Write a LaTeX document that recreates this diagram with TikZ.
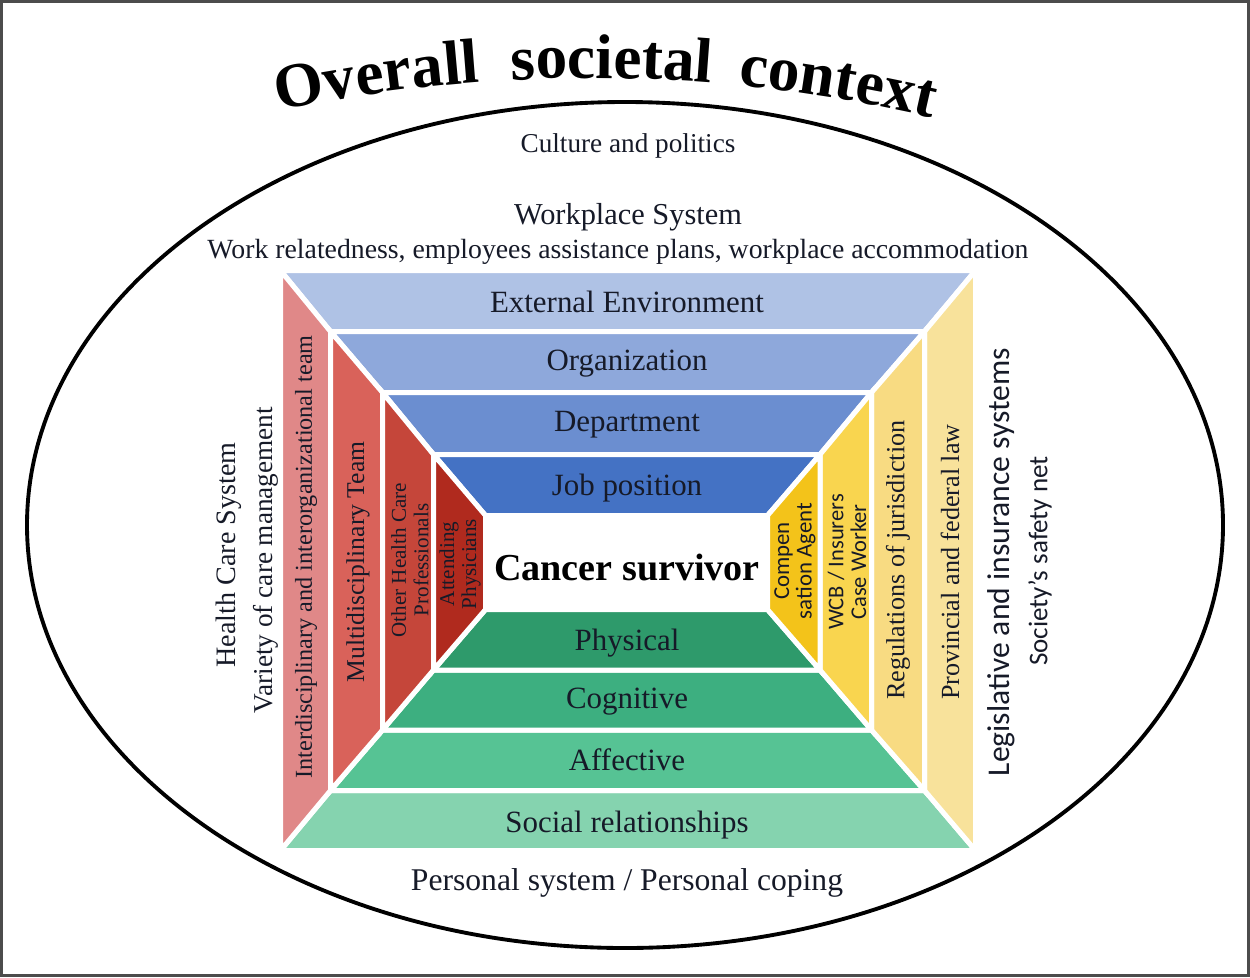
\documentclass[tikz,border=0pt]{standalone}
\usepackage{fontspec}
\setmainfont{Liberation Serif}
\newfontfamily\sansf{Carlito}
\usetikzlibrary{decorations.text}
\newcommand\fsz[2]{\fontsize{#1pt}{#2pt}\selectfont}
\newcommand\titlefont{\fontsize{36pt}{40pt}\selectfont\bfseries}
\newcommand\arcword[2]{%
  \path[decorate, decoration={text along path, text align=center,
    text={|\titlefont|#2}}]
    ([shift={(590,1578)}]#1-7:1500) arc[start angle=#1-7, end angle=#1+7, radius=1500];}
\definecolor{txt}{HTML}{161A28}
\definecolor{blueA}{HTML}{AFC2E5}
\definecolor{blueB}{HTML}{8EA8DB}
\definecolor{blueC}{HTML}{6B8ED0}
\definecolor{blueD}{HTML}{4472C4}
\definecolor{redA}{HTML}{E08888}
\definecolor{redB}{HTML}{D9625A}
\definecolor{redC}{HTML}{C5463A}
\definecolor{redD}{HTML}{B02A1E}
\definecolor{yelA}{HTML}{F8E29B}
\definecolor{yelB}{HTML}{F8DB82}
\definecolor{yelC}{HTML}{F9D54F}
\definecolor{yelD}{HTML}{F3C31A}
\definecolor{grnA}{HTML}{85D3AF}
\definecolor{grnB}{HTML}{56C394}
\definecolor{grnC}{HTML}{3DAF80}
\definecolor{grnD}{HTML}{2E9A6B}
\begin{document}
\begin{tikzpicture}[x=0.02cm, y=-0.02cm,
  band/.style={draw=white, line width=0.1cm},
  lbl/.style={inner sep=0pt, text=txt},
  rlbl/.style={lbl, rotate=90}]
\useasboundingbox (0,0) rectangle (1250,977);
\draw[black!70, line width=1.3pt] (1.5,1.5) rectangle (1248.5,975.5);
\draw[black, line width=2.2pt] (625,525) ellipse [x radius=598, y radius=423];
% title, one word per arc piece
\arcword{261.91}{Overall}
\arcword{270.82}{societal}
\arcword{279.44}{context}
% corners of the nested frames
\coordinate (a0) at (280.5,270.5); \coordinate (b0) at (975.5,270.5);
\coordinate (c0) at (975.5,850.5); \coordinate (d0) at (280.5,850.5);
\coordinate (a1) at (330.5,331.5); \coordinate (b1) at (924.5,331.5);
\coordinate (c1) at (924.5,790.5); \coordinate (d1) at (330.5,790.5);
\coordinate (a2) at (382.5,392.5); \coordinate (b2) at (871.5,392.5);
\coordinate (c2) at (871.5,730);   \coordinate (d2) at (382.5,730);
\coordinate (a3) at (433.5,454.5); \coordinate (b3) at (820,454.5);
\coordinate (c3) at (820,670);     \coordinate (d3) at (433.5,670);
\coordinate (a4) at (485.5,515.5); \coordinate (b4) at (767.5,515.5);
\coordinate (c4) at (767.5,609.5); \coordinate (d4) at (485.5,609.5);
% top bands
\path[band, fill=blueA] (a0) -- (b0) -- (b1) -- (a1) -- cycle;
\path[band, fill=blueB] (a1) -- (b1) -- (b2) -- (a2) -- cycle;
\path[band, fill=blueC] (a2) -- (b2) -- (b3) -- (a3) -- cycle;
\path[band, fill=blueD] (a3) -- (b3) -- (b4) -- (a4) -- cycle;
% bottom bands
\path[band, fill=grnA] (d0) -- (c0) -- (c1) -- (d1) -- cycle;
\path[band, fill=grnB] (d1) -- (c1) -- (c2) -- (d2) -- cycle;
\path[band, fill=grnC] (d2) -- (c2) -- (c3) -- (d3) -- cycle;
\path[band, fill=grnD] (d3) -- (c3) -- (c4) -- (d4) -- cycle;
% left bands
\path[band, fill=redA] (a0) -- (d0) -- (d1) -- (a1) -- cycle;
\path[band, fill=redB] (a1) -- (d1) -- (d2) -- (a2) -- cycle;
\path[band, fill=redC] (a2) -- (d2) -- (d3) -- (a3) -- cycle;
\path[band, fill=redD] (a3) -- (d3) -- (d4) -- (a4) -- cycle;
% right bands
\path[band, fill=yelA] (b0) -- (c0) -- (c1) -- (b1) -- cycle;
\path[band, fill=yelB] (b1) -- (c1) -- (c2) -- (b2) -- cycle;
\path[band, fill=yelC] (b2) -- (c2) -- (c3) -- (b3) -- cycle;
\path[band, fill=yelD] (b3) -- (c3) -- (c4) -- (b4) -- cycle;
% horizontal labels
\node[lbl, font=\fsz{15.5}{18}] (culture) at (628,146) {Culture and politics};
\node[lbl, font=\fsz{17.3}{20}] (wps) at (628,217) {Workplace System};
\node[lbl, font=\fsz{15.8}{19}] (wrel) at (618,252) {Work relatedness, employees assistance plans, workplace accommodation};
\node[lbl, font=\fsz{17.6}{20}] (ext) at (627,302) {External Environment};
\node[lbl, font=\fsz{17.6}{20}] (org) at (627,364) {Organization};
\node[lbl, font=\fsz{17.6}{20}] (dep) at (627,425) {Department};
\node[lbl, font=\fsz{17.6}{20}] (job) at (627,488) {Job position};
\node[lbl, font=\fsz{21.7}{24}\bfseries, text=black] (cs) at (627,567) {Cancer survivor};
\node[lbl, font=\fsz{17.6}{20}] (phy) at (627,643) {Physical};
\node[lbl, font=\fsz{17.6}{20}] (cog) at (627,702) {Cognitive};
\node[lbl, font=\fsz{17.6}{20}] (aff) at (627,760) {Affective};
\node[lbl, font=\fsz{17.6}{20}] (socrel) at (627,825) {Social relationships};
\node[lbl, font=\fsz{18}{21}] (pers) at (627,883) {Personal system / Personal coping};
% vertical labels, left
\node[rlbl, font=\fsz{16}{19}] (hcs) at (229,555) {Health Care System};
\node[rlbl, font=\fsz{15.5}{18}] (var) at (266,560) {Variety of care management};
\node[rlbl, font=\fsz{13.8}{16}] (inter) at (306,557) {Interdisciplinary and interorganizational team};
\node[rlbl, font=\fsz{14.6}{17}] (multi) at (358,562) {Multidisciplinary Team};
\node[rlbl, align=center, font=\fsz{12}{12.8}] (other) at (410,560) {Other Health Care\\Professionals};
\node[rlbl, align=center, font=\fsz{12}{12.5}] (att) at (460,564) {Attending\\Physicians};
% vertical labels, right
\node[rlbl, align=center, font=\sansf\fsz{13}{12.8}] (comp) at (795,561) {Compen\\sation Agent};
\node[rlbl, align=center, font=\sansf\fsz{12.8}{13}] (wcb) at (847,562) {WCB / Insurers\\Case Worker};
\node[rlbl, font=\fsz{14.9}{17}] (reg) at (898,560) {Regulations of jurisdiction};
\node[rlbl, font=\fsz{14.9}{17}] (prov) at (950,562) {Provincial and federal law};
\node[rlbl, font=\sansf\fsz{18}{21}] (leg) at (1001,562) {Legislative and insurance systems};
\node[rlbl, font=\sansf\fsz{15.4}{18}] (soc) at (1040,561) {Society’s safety net};
\end{tikzpicture}
\end{document}
